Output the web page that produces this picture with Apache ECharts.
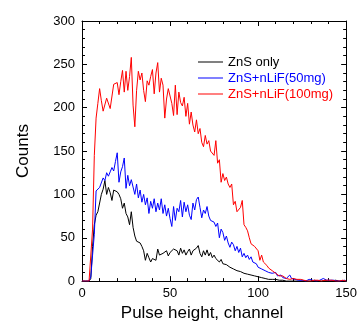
<!DOCTYPE html>
<html>
<head>
<meta charset="utf-8">
<script src="https://cdn.jsdelivr.net/npm/echarts@6/dist/echarts.min.js"></script>
<style>
  html, body { margin: 0; padding: 0; background: #fff; }
  #chart { width: 360px; height: 327px; }
</style>
</head>
<body>
<div id="chart"></div>
<script>
// counts per channel, channel = array index (0..150)
const znsOnly = [
  0, 0, 0, 0, 0, 3, 40, 65, 76, 80,
  82, 100, 106, 116, 100, 108, 102, 93, 105, 104,
  103, 100, 95, 84, 90, 78, 74, 65, 80, 62,
  52, 46, 48, 44, 40, 35, 24, 32, 27, 22,
  26, 28, 24, 37, 30, 28, 32, 30, 35, 29,
  33, 31, 37, 35, 35, 30, 38, 32, 36, 30,
  34, 37, 30, 35, 33, 38, 41, 32, 28, 35,
  30, 36, 29, 33, 27, 30, 26, 28, 22, 25,
  20, 22, 19, 21, 16, 18, 14, 15, 12, 14,
  11, 12, 9, 10, 8, 9, 7, 8, 6, 6,
  5, 6, 4, 4, 3, 3, 2, 3, 2, 1,
  2, 1, 1, 0, 1, 0, 0, 1, 0, 0,
  0, 1, 0, 0, 0, 1, 0, 0, 0, 0,
  0, 0, 1, 0, 0, 0, 0, 0, 1, 0,
  0, 0, 0, 0, 1, 0, 0, 0, 0, 0, 0
];
const lif50 = [
  0, 0, 0, 0, 0, 5, 30, 54, 104, 102,
  108, 110, 119, 116, 125, 121, 126, 131, 127, 138,
  148, 114, 126, 132, 142, 107, 122, 110, 117, 119,
  100, 112, 96, 105, 91, 100, 88, 96, 78, 92,
  84, 95, 80, 90, 82, 95, 78, 88, 75, 84,
  72, 63, 86, 70, 84, 80, 93, 74, 91, 80,
  88, 76, 71, 90, 82, 94, 97, 85, 73, 82,
  78, 86, 75, 70, 72, 68, 63, 67, 50, 60,
  56, 47, 52, 44, 39, 45, 42, 35, 40, 33,
  38, 28, 32, 27, 30, 25, 28, 22, 24, 20,
  16, 18, 14, 16, 12, 13, 10, 11, 9, 8,
  10, 6, 5, 7, 4, 5, 3, 4, 7, 3,
  3, 2, 3, 1, 2, 1, 2, 0, 1, 2,
  0, 1, 1, 0, 2, 1, 1, 3, 4, 1,
  0, 1, 0, 1, 0, 0, 1, 0, 0, 1, 0
];
const lif100 = [
  0, 0, 0, 0, 0, 2, 60, 145, 188, 205,
  222, 208, 196, 195, 211, 209, 199, 199, 227, 228,
  229, 215, 230, 243, 218, 242, 220, 236, 258, 203,
  178, 220, 242, 232, 240, 220, 207, 231, 226, 236,
  244, 216, 240, 252, 218, 234, 226, 188, 210, 222,
  223, 205, 191, 226, 192, 218, 206, 202, 212, 190,
  205, 181, 195, 180, 172, 186, 170, 176, 160, 155,
  168, 158, 162, 150, 152, 145, 162, 136, 140, 114,
  124, 116, 120, 112, 108, 112, 88, 92, 80, 78,
  85, 93, 65, 62, 58, 50, 43, 45, 40, 39,
  35, 24, 30, 22, 20, 18, 15, 15, 12, 10,
  9, 8, 6, 5, 6, 4, 3, 4, 2, 2,
  3, 1, 2, 1, 2, 0, 1, 2, 0, 1,
  0, 2, 1, 0, 1, 0, 0, 2, 1, 0,
  1, 0, 1, 0, 0, 1, 0, 0, 1, 0, 0
];
const seriesNames = ['ZnS only', 'ZnS+nLiF(50mg)', 'ZnS+nLiF(100mg)'];
const seriesColors = ['#000000', '#0000ff', '#ff0000'];

const font = '"Liberation Sans", Arial, sans-serif';
const chart = echarts.init(document.getElementById('chart'));

const axisCommon = {
  type: 'value',
  min: 0,
  interval: 50,
  axisLine: { show: true, onZero: false, lineStyle: { color: '#000', width: 1 } },
  axisTick: { show: true, inside: true, length: 5, lineStyle: { color: '#000' } },
  minorTick: { show: true, splitNumber: 5, length: 3, lineStyle: { color: '#000' } },
  splitLine: { show: false },
  axisLabel: { color: '#000', fontSize: 13, fontFamily: font }
};

const lines = [znsOnly, lif50, lif100].map((vals, k) => ({
  name: seriesNames[k],
  type: 'line',
  symbol: 'none',
  animation: false,
  data: vals.map((v, i) => [i, v]),
  lineStyle: { color: seriesColors[k], width: 1 },
  itemStyle: { color: seriesColors[k] }
}));

chart.setOption({
  backgroundColor: '#fff',
  animation: false,
  grid: { left: 82, right: 8, top: 21, bottom: 39 },
  legend: {
    orient: 'vertical',
    left: 198,
    top: 55,
    padding: 0,
    icon: 'rect',
    itemWidth: 25,
    itemHeight: 1,
    itemGap: 2,
    data: seriesNames.map((n, k) => ({ name: n, textStyle: { color: seriesColors[k] } })),
    textStyle: { fontSize: 13, fontFamily: font, lineHeight: 14 }
  },
  xAxis: [
    Object.assign({}, axisCommon, {
      max: 150,
      position: 'bottom',
      name: 'Pulse height, channel',
      nameLocation: 'middle',
      nameGap: 20,
      nameTextStyle: { color: '#000', fontSize: 17, fontFamily: font, padding: [0, 24, 0, 0] },
      axisLabel: { color: '#000', fontSize: 13, fontFamily: font, margin: 6 }
    }),
    Object.assign({}, axisCommon, {
      max: 150,
      position: 'top',
      axisLabel: { show: false }
    })
  ],
  yAxis: [
    Object.assign({}, axisCommon, {
      max: 300,
      position: 'left',
      name: 'Counts',
      nameLocation: 'middle',
      nameGap: 50,
      nameTextStyle: { color: '#000', fontSize: 17, fontFamily: font },
      axisLabel: { color: '#000', fontSize: 13, fontFamily: font, margin: 7 }
    }),
    Object.assign({}, axisCommon, {
      max: 300,
      position: 'right',
      axisLabel: { show: false }
    })
  ],
  series: lines
});
</script>
</body>
</html>
